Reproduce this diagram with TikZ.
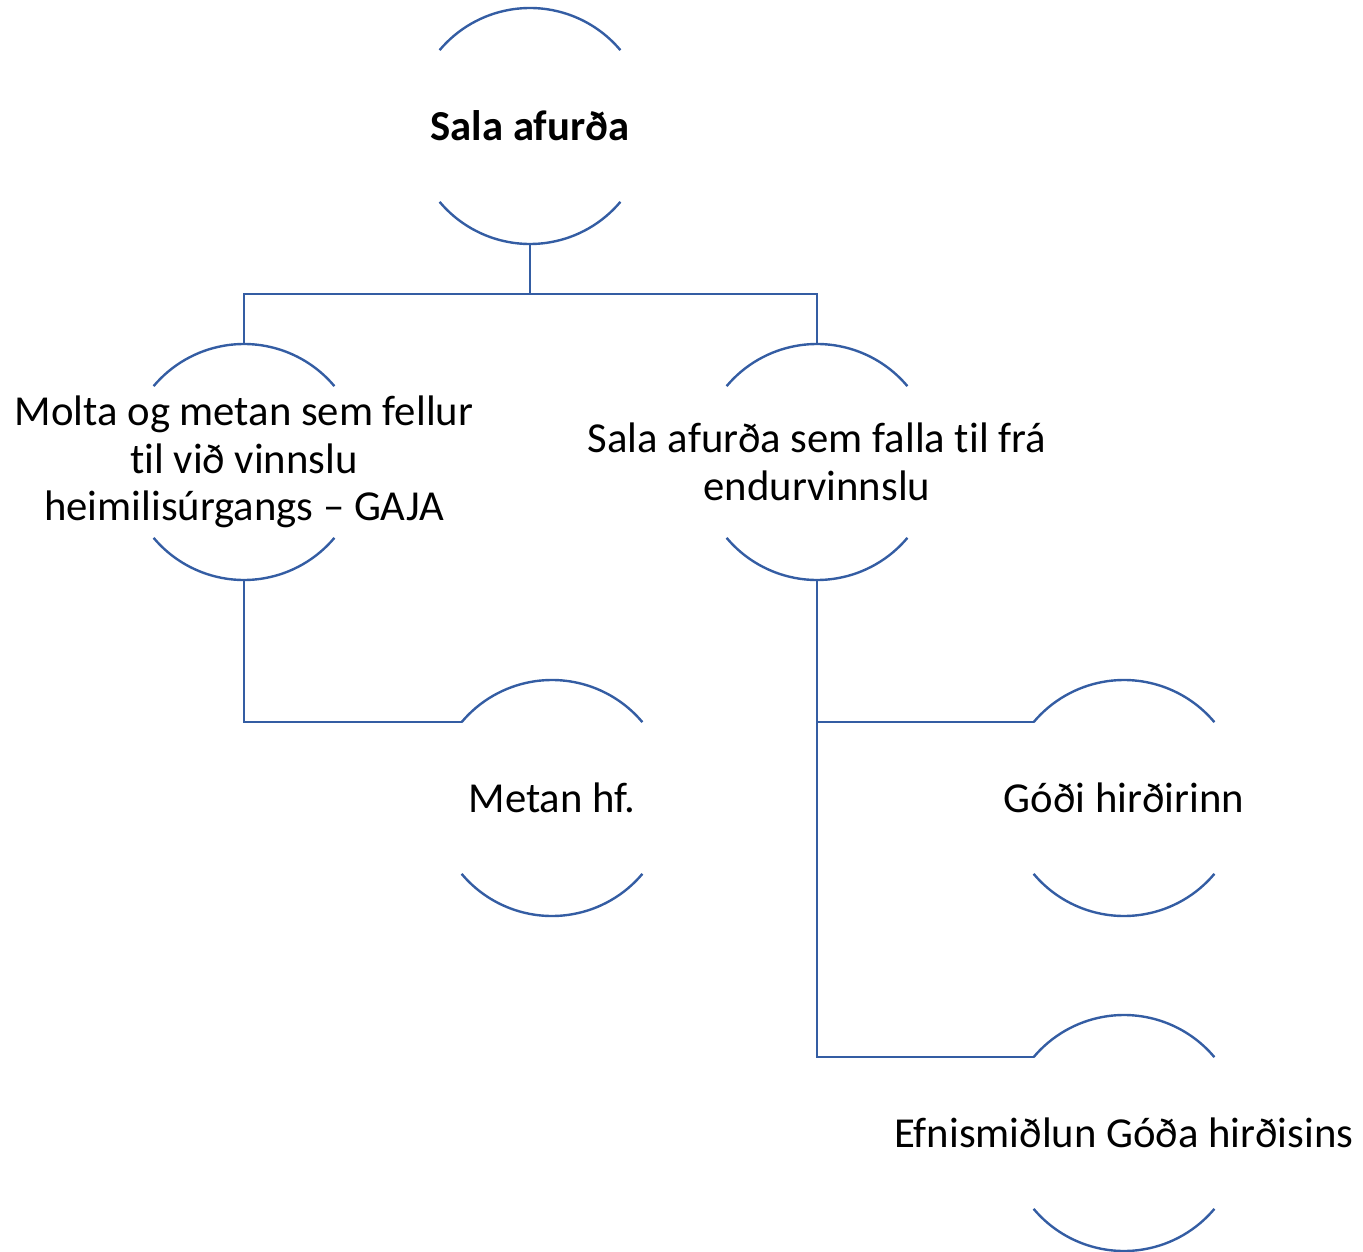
\documentclass[tikz,border=0pt]{standalone}
\usepackage{fontspec}
\setmainfont{Carlito}[Ligatures={NoCommon}]
\definecolor{arcblue}{RGB}{52,93,163}
\begin{document}
\begin{tikzpicture}[x=1pt,y=-1pt,
  ring/.style={circle,draw=none,minimum size=236pt,inner sep=0pt,outer sep=0pt},
  lbl/.style={align=center,font=\fontsize{42.7}{47.5}\selectfont,inner sep=0pt},
  arcline/.style={draw=arcblue,line width=2.4pt},
  conn/.style={draw=arcblue,line width=2.4pt}]
\useasboundingbox (0,0) rectangle (1363,1252);
\newcommand{\ringarcs}[1]{%
  \draw[arcline] (#1.40) arc[start angle=40,end angle=140,radius=118pt];
  \draw[arcline] (#1.220) arc[start angle=220,end angle=320,radius=118pt];}
\node[ring] (a) at (530,126) {};
\node[ring] (b) at (244,462) {};
\node[ring] (c) at (817,462) {};
\node[ring] (d) at (552,798) {};
\node[ring] (e) at (1124,798) {};
\node[ring] (f) at (1124,1133) {};
\ringarcs{a}\ringarcs{b}\ringarcs{c}\ringarcs{d}\ringarcs{e}\ringarcs{f}
\node[lbl,font=\fontsize{42.7}{47.5}\selectfont\bfseries] (ta) at (a) {Sala afurða};
\node[lbl] (tb) at (b) {Molta og metan sem fellur\\til við vinnslu\\heimilisúrgangs – GAJA};
\node[lbl] (tc) at (c) {Sala afurða sem falla til frá\\endurvinnslu};
\node[lbl] (td) at (d) {Metan hf.};
\node[lbl] (te) at (e) {Góði hirðirinn};
\node[lbl] (tf) at (f) {Efnismiðlun Góða hirðisins};
\draw[conn] (a.south) -- ++(0,50) -| (b.north);
\draw[conn] (a.south) -- ++(0,50) -| (c.north);
\draw[conn] (b.south) |- (d.140);
\draw[conn] (c.south) |- (e.140);
\draw[conn] (c.south) |- (f.140);
\end{tikzpicture}
\end{document}
